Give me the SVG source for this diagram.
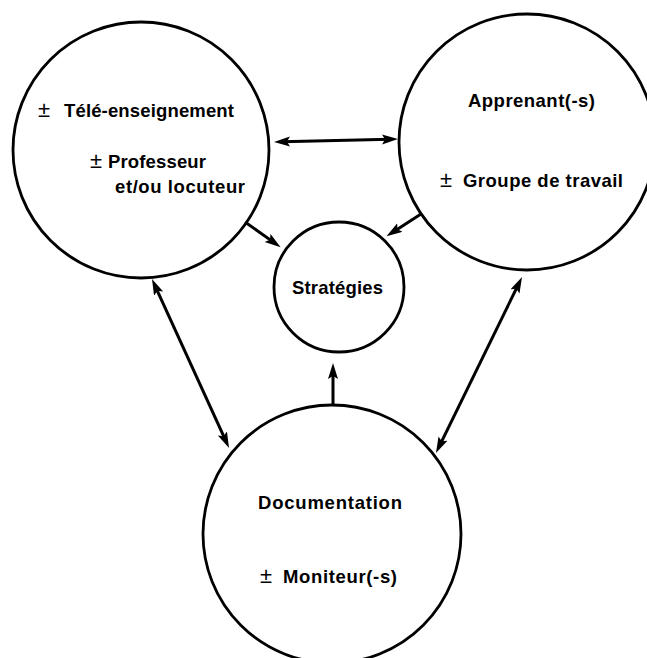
<svg xmlns="http://www.w3.org/2000/svg" width="647" height="658" viewBox="0 0 647 658">
<style>
.node{fill:none;stroke:#000;stroke-width:2.8}
.conn{fill:none;stroke:#000;stroke-width:3}
.lbl{font-family:"Liberation Sans",Arial,Helvetica,sans-serif;font-weight:bold;font-size:18.5px;fill:#000}
.pm{font-family:"Liberation Sans",Arial,Helvetica,sans-serif;font-weight:normal;font-size:22px;fill:#000}
</style>
<defs>
<marker id="ah" markerUnits="userSpaceOnUse" markerWidth="18" markerHeight="12" refX="8" refY="5" orient="auto-start-reverse">
<path d="M0,0 L16,5 L0,10 L3,5 z" fill="#000"/>
</marker>
</defs>
<rect width="647" height="658" fill="#fff"/>
<g id="teleenseignement">
<circle class="node" cx="141" cy="150" r="128"/>
<text class="pm" x="38" y="117">±</text>
<text class="lbl" x="64" y="117" textLength="170" lengthAdjust="spacing">Télé-enseignement</text>
<text class="pm" x="90" y="168">±</text>
<text class="lbl" x="108" y="168" textLength="98" lengthAdjust="spacing">Professeur</text>
<text class="lbl" x="115" y="193" textLength="130" lengthAdjust="spacing">et/ou locuteur</text>
</g>
<g id="apprenant">
<circle class="node" cx="527" cy="142" r="128"/>
<text class="lbl" x="468" y="107" textLength="127" lengthAdjust="spacing">Apprenant(-s)</text>
<text class="pm" x="440" y="187">±</text>
<text class="lbl" x="463" y="187" textLength="160" lengthAdjust="spacing">Groupe de travail</text>
</g>
<g id="strategies">
<circle class="node" cx="339" cy="287" r="65"/>
<text class="lbl" x="292" y="294" textLength="91" lengthAdjust="spacing">Stratégies</text>
</g>
<g id="documentation">
<circle class="node" cx="332" cy="534" r="129"/>
<text class="lbl" x="258" y="509" textLength="144" lengthAdjust="spacing">Documentation</text>
<text class="pm" x="260" y="583">±</text>
<text class="lbl" x="283" y="583" textLength="114" lengthAdjust="spacing">Moniteur(-s)</text>
</g>
<g id="connectors">
<line class="conn" x1="282" y1="141.8" x2="390" y2="139.2" marker-start="url(#ah)" marker-end="url(#ah)"/>
<line class="conn" x1="155.3" y1="286.3" x2="225.7" y2="440.7" marker-start="url(#ah)" marker-end="url(#ah)"/>
<line class="conn" x1="518.5" y1="284.2" x2="439.5" y2="445.8" marker-start="url(#ah)" marker-end="url(#ah)"/>
<line class="conn" x1="245" y1="222" x2="274.1" y2="242.6" marker-end="url(#ah)"/>
<line class="conn" x1="421" y1="214" x2="393.2" y2="231.9" marker-end="url(#ah)"/>
<line class="conn" x1="333" y1="405" x2="333" y2="371" marker-end="url(#ah)"/>
</g>
</svg>
